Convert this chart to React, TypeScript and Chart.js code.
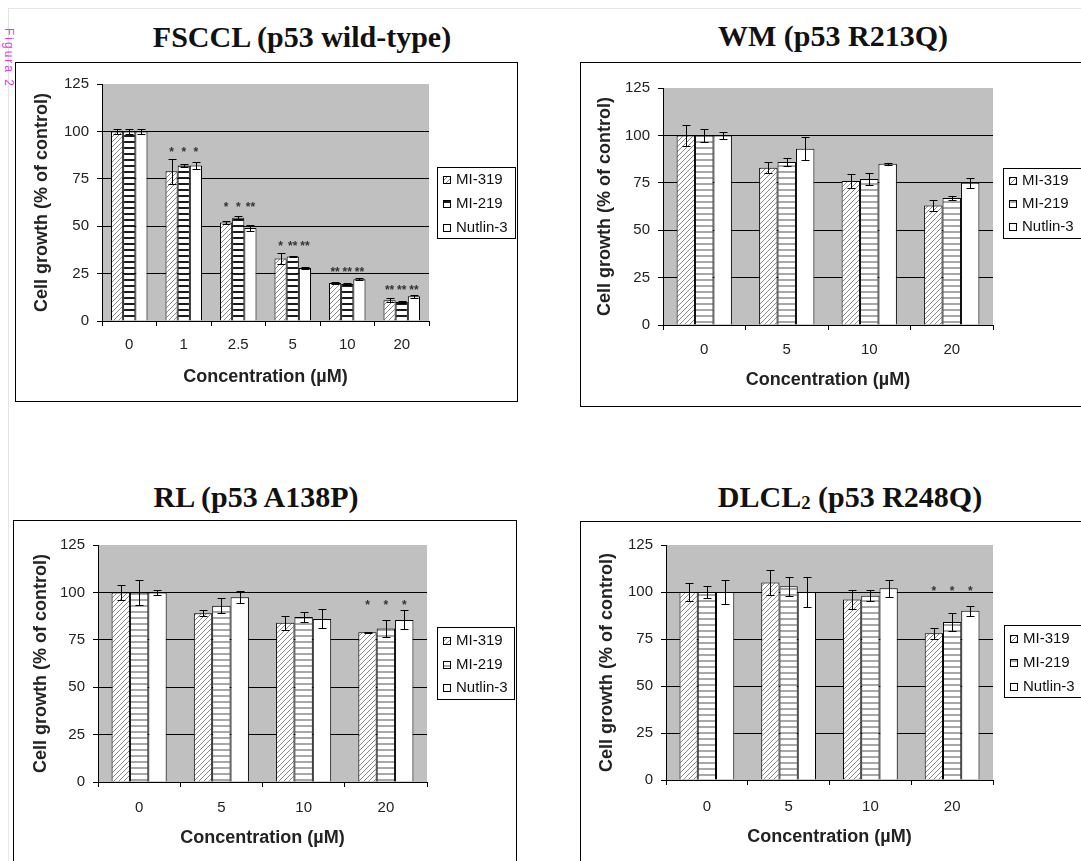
import React, { useEffect, useRef } from "react";
import { Chart, registerables } from "chart.js";

Chart.register(...registerables);

const SERIES = ["MI-319", "MI-219", "Nutlin-3"];
const Y_MIN = 0;
const Y_MAX = 125;
const Y_STEP = 25;

// FSCCL (p53 wild-type)
const FSCCL_CATEGORIES = ["0", "1", "2.5", "5", "10", "20"];
const FSCCL_MI319 = [100, 79, 52, 33, 20, 11];
const FSCCL_MI319_ERR = [1.5, 6.5, 0.7, 3, 0.5, 1];
const FSCCL_MI219 = [100, 82, 54.5, 34, 19.5, 10];
const FSCCL_MI219_ERR = [1.5, 0.8, 0.7, 0.5, 0.3, 0.3];
const FSCCL_NUTLIN = [100, 82, 49, 28, 22, 13];
const FSCCL_NUTLIN_ERR = [1.5, 2, 1.5, 0.5, 0.5, 0.8];
const FSCCL_STARS_MI319 = ["", "*", "*", "*", "**", "**"];
const FSCCL_STARS_MI219 = ["", "*", "*", "**", "**", "**"];
const FSCCL_STARS_NUTLIN = ["", "*", "**", "**", "**", "**"];
const FSCCL_STAR_LEVEL = [0, 90.5, 61.5, 41, 27.4, 18.1];

// WM (p53 R213Q)
const WM_CATEGORIES = ["0", "5", "10", "20"];
const WM_MI319 = [100, 83, 76, 63];
const WM_MI319_ERR = [5.5, 3, 3.5, 3];
const WM_MI219 = [100, 86, 77, 67];
const WM_MI219_ERR = [3.3, 2, 3, 1];
const WM_NUTLIN = [100, 93, 85, 75];
const WM_NUTLIN_ERR = [2, 6, 0.5, 2.5];
const WM_STARS = ["", "", "", ""];
const WM_STAR_LEVEL = [0, 0, 0, 0];

// RL (p53 A138P)
const RL_CATEGORIES = ["0", "5", "10", "20"];
const RL_MI319 = [100, 89, 84, 79];
const RL_MI319_ERR = [3.8, 1.5, 3.8, 0.3];
const RL_MI219 = [100, 93, 87, 81];
const RL_MI219_ERR = [6.5, 4, 2.4, 4.5];
const RL_NUTLIN = [100, 97.5, 86, 85.5];
const RL_NUTLIN_ERR = [1.5, 3, 5, 5];
const RL_STARS = ["", "", "", "*"];
const RL_STAR_LEVEL = [0, 0, 0, 95];

// DLCL2 (p53 R248Q)
const DLCL_CATEGORIES = ["0", "5", "10", "20"];
const DLCL_MI319 = [100, 105, 96, 78];
const DLCL_MI319_ERR = [4.6, 6.5, 5, 3];
const DLCL_MI219 = [100, 103, 98, 84];
const DLCL_MI219_ERR = [3.4, 5, 3, 5];
const DLCL_NUTLIN = [100, 100, 102, 90];
const DLCL_NUTLIN_ERR = [6.2, 8, 4.5, 2.7];
const DLCL_STARS = ["", "", "", "*"];
const DLCL_STAR_LEVEL = [0, 0, 0, 102];

const SANS = '"Liberation Sans", Arial, sans-serif';
const SERIF = '"Liberation Serif", "Times New Roman", serif';
const TICK_SIZE = 15;
const AXIS_TITLE_SIZE = 18;
const LEGEND_SIZE = 15;
const STAR_SIZE = 12;

type Rect = [number, number, number, number];

type PanelDef = {
  title: React.ReactNode;
  titleCx: number;
  titleBaseline: number;
  box: Rect;
  plot: Rect;
  legend: Rect;
  legendRows: number[];
  yTitleX: number;
  xLabelY: number;
  xTitleY: number;
  categories: string[];
  values: number[][];
  errors: number[][];
  stars: string[][];
  starLevel: number[];
  stripe: "dark" | "light";
};

const PANELS: PanelDef[] = [
  {
    title: "FSCCL (p53 wild-type)",
    titleCx: 302,
    titleBaseline: 47,
    box: [15, 62, 518, 402],
    plot: [102, 84, 429, 321],
    legend: [437, 167, 515, 238],
    legendRows: [180, 204, 228],
    yTitleX: 42,
    xLabelY: 345,
    xTitleY: 377,
    categories: FSCCL_CATEGORIES,
    values: [FSCCL_MI319, FSCCL_MI219, FSCCL_NUTLIN],
    errors: [FSCCL_MI319_ERR, FSCCL_MI219_ERR, FSCCL_NUTLIN_ERR],
    stars: [FSCCL_STARS_MI319, FSCCL_STARS_MI219, FSCCL_STARS_NUTLIN],
    starLevel: FSCCL_STAR_LEVEL,
    stripe: "dark",
  },
  {
    title: "WM (p53 R213Q)",
    titleCx: 833,
    titleBaseline: 46,
    box: [580, 62, 1110, 407],
    plot: [663, 88, 993, 325],
    legend: [1003, 168, 1110, 238],
    legendRows: [181, 204, 227],
    yTitleX: 605,
    xLabelY: 350,
    xTitleY: 380,
    categories: WM_CATEGORIES,
    values: [WM_MI319, WM_MI219, WM_NUTLIN],
    errors: [WM_MI319_ERR, WM_MI219_ERR, WM_NUTLIN_ERR],
    stars: [WM_STARS, WM_STARS, WM_STARS],
    starLevel: WM_STAR_LEVEL,
    stripe: "light",
  },
  {
    title: "RL (p53 A138P)",
    titleCx: 256,
    titleBaseline: 507,
    box: [13, 520, 517, 890],
    plot: [98, 545, 427, 782],
    legend: [437, 627, 514, 699],
    legendRows: [641, 665, 688],
    yTitleX: 41,
    xLabelY: 808,
    xTitleY: 838,
    categories: RL_CATEGORIES,
    values: [RL_MI319, RL_MI219, RL_NUTLIN],
    errors: [RL_MI319_ERR, RL_MI219_ERR, RL_NUTLIN_ERR],
    stars: [RL_STARS, RL_STARS, RL_STARS],
    starLevel: RL_STAR_LEVEL,
    stripe: "light",
  },
  {
    title: (
      <>
        DLCL
        <span style={{ fontSize: "0.62em", position: "relative", top: "0.12em" }}>2</span> (p53 R248Q)
      </>
    ),
    titleCx: 850,
    titleBaseline: 507,
    box: [580, 521, 1110, 890],
    plot: [666, 545, 993, 780],
    legend: [1004, 625, 1110, 697],
    legendRows: [639, 663, 687],
    yTitleX: 607,
    xLabelY: 807,
    xTitleY: 837,
    categories: DLCL_CATEGORIES,
    values: [DLCL_MI319, DLCL_MI219, DLCL_NUTLIN],
    errors: [DLCL_MI319_ERR, DLCL_MI219_ERR, DLCL_NUTLIN_ERR],
    stars: [DLCL_STARS, DLCL_STARS, DLCL_STARS],
    starLevel: DLCL_STAR_LEVEL,
    stripe: "light",
  },
];

function makeFill(ctx: CanvasRenderingContext2D, kind: string): CanvasPattern | string {
  if (kind === "white") return "#ffffff";
  const c = document.createElement("canvas");
  const g = c.getContext("2d") as CanvasRenderingContext2D;
  if (kind === "diag") {
    c.width = 5;
    c.height = 5;
    g.fillStyle = "#ffffff";
    g.fillRect(0, 0, 5, 5);
    g.strokeStyle = "#8a8a8a";
    g.lineWidth = 1;
    g.beginPath();
    g.moveTo(0, 5);
    g.lineTo(5, 0);
    g.moveTo(-1, 1);
    g.lineTo(1, -1);
    g.moveTo(4, 6);
    g.lineTo(6, 4);
    g.stroke();
  } else if (kind === "dark") {
    c.width = 6;
    c.height = 6;
    g.fillStyle = "#ffffff";
    g.fillRect(0, 0, 6, 6);
    g.fillStyle = "#1a1a1a";
    g.fillRect(0, 0, 6, 2);
  } else {
    c.width = 6;
    c.height = 6;
    g.fillStyle = "#ffffff";
    g.fillRect(0, 0, 6, 6);
    g.fillStyle = "#a8a8a8";
    g.fillRect(0, 0, 6, 2);
  }
  return ctx.createPattern(c, "repeat") as CanvasPattern;
}

function Panel({ def }: { def: PanelDef }) {
  const ref = useRef<HTMLCanvasElement>(null);
  const [bl, bt, br, bb] = def.box;
  const ox = bl + 1;
  const oy = bt + 1;
  const cw = br - bl - 2;
  const ch = bb - bt - 2;

  useEffect(() => {
    const canvas = ref.current as HTMLCanvasElement;
    const ctx0 = canvas.getContext("2d") as CanvasRenderingContext2D;
    const fills = [makeFill(ctx0, "diag"), makeFill(ctx0, def.stripe), makeFill(ctx0, "white")];

    const [pl, pt, pr, pb] = def.plot;
    const padTop = pt - oy;
    const yWidth = pl - ox;
    const padRight = ox + cw - pr;
    const xHeight = oy + ch - pb;
    const tickLH = TICK_SIZE * 1.2;
    const titleLH = AXIS_TITLE_SIZE * 1.2;
    const xTickPad = def.xLabelY - pb - 5 - tickLH / 2;
    const xTitlePad = oy + ch - def.xTitleY - titleLH / 2;
    const yTitlePad = def.yTitleX - ox - titleLH / 2;

    const deco = {
      id: "deco",
      beforeDraw(chart: any) {
        const { ctx, chartArea: a } = chart;
        ctx.save();
        ctx.fillStyle = "#c0c0c0";
        ctx.fillRect(a.left, a.top, a.right - a.left, a.bottom - a.top);
        ctx.restore();
      },
      afterDatasetsDraw(chart: any) {
        const { ctx } = chart;
        const ys = chart.scales.y;
        ctx.save();
        ctx.strokeStyle = "#000";
        ctx.lineWidth = 1;
        def.errors.forEach((errs, di) => {
          const meta = chart.getDatasetMeta(di);
          meta.data.forEach((bar: any, j: number) => {
            const v = def.values[di][j];
            const e = errs[j];
            const x = Math.round(bar.x) + 0.5;
            const y1 = Math.round(ys.getPixelForValue(v + e)) + 0.5;
            const y2 = Math.round(ys.getPixelForValue(v - e)) + 0.5;
            ctx.beginPath();
            ctx.moveTo(x, y1);
            ctx.lineTo(x, y2);
            ctx.moveTo(x - 4, y1);
            ctx.lineTo(x + 4, y1);
            ctx.moveTo(x - 4, y2);
            ctx.lineTo(x + 4, y2);
            ctx.stroke();
          });
        });
        ctx.fillStyle = "#333";
        ctx.font = `bold ${STAR_SIZE}px ${SANS}`;
        ctx.textAlign = "center";
        ctx.textBaseline = "alphabetic";
        def.stars.forEach((row, di) => {
          const meta = chart.getDatasetMeta(di);
          row.forEach((s, j) => {
            if (!s) return;
            const bar = meta.data[j];
            const yy = ys.getPixelForValue(def.starLevel[j]);
            ctx.fillText(s, bar.x, yy + STAR_SIZE * 0.58);
          });
        });
        ctx.restore();
      },
      afterDraw(chart: any) {
        const { ctx } = chart;
        const [ll, lt, lr, lb] = def.legend;
        const x0 = ll - ox;
        const y0 = lt - oy;
        ctx.save();
        ctx.fillStyle = "#fff";
        ctx.fillRect(x0, y0, lr - ll, lb - lt);
        ctx.strokeStyle = "#000";
        ctx.lineWidth = 1;
        ctx.strokeRect(x0 + 0.5, y0 + 0.5, lr - ll, lb - lt);
        ctx.font = `${LEGEND_SIZE}px ${SANS}`;
        ctx.textBaseline = "middle";
        ctx.textAlign = "left";
        chart.data.datasets.forEach((ds: any, i: number) => {
          const ry = def.legendRows[i] - oy;
          const sx = x0 + 6;
          const sy = Math.round(ry - 4);
          ctx.fillStyle = ds.backgroundColor;
          ctx.fillRect(sx, sy, 8, 8);
          ctx.strokeStyle = "#000";
          ctx.strokeRect(sx + 0.5, sy + 0.5, 7, 7);
          ctx.fillStyle = "#111";
          ctx.fillText(ds.label, x0 + 19, ry);
        });
        ctx.restore();
      },
    };

    const chart = new Chart(canvas, {
      type: "bar",
      data: {
        labels: def.categories,
        datasets: SERIES.map((name, i) => ({
          label: name,
          data: def.values[i],
          backgroundColor: fills[i] as any,
          borderColor: "#000",
          borderWidth: 1,
          barPercentage: 1,
          categoryPercentage: 0.67,
        })),
      },
      options: {
        responsive: false,
        maintainAspectRatio: false,
        animation: false,
        events: [],
        layout: { padding: { left: 0, top: padTop, right: padRight, bottom: 0 } },
        plugins: {
          legend: { display: false },
          tooltip: { enabled: false },
          title: { display: false },
        },
        scales: {
          x: {
            type: "category",
            offset: true,
            grid: {
              display: true,
              offset: true,
              drawOnChartArea: false,
              drawTicks: true,
              tickLength: 5,
              color: "#000",
              tickColor: "#000",
              lineWidth: 1,
            },
            border: { display: true, color: "#000", width: 1 },
            ticks: {
              color: "#222",
              font: { family: SANS, size: TICK_SIZE },
              padding: xTickPad,
              maxRotation: 0,
              autoSkip: false,
            },
            title: {
              display: true,
              text: "Concentration (µM)",
              color: "#222",
              font: { family: SANS, size: AXIS_TITLE_SIZE, weight: "bold" },
              padding: { top: 0, bottom: xTitlePad },
            },
            afterFit: (s: any) => {
              s.height = xHeight;
            },
          },
          y: {
            min: Y_MIN,
            max: Y_MAX,
            ticks: {
              stepSize: Y_STEP,
              color: "#222",
              font: { family: SANS, size: TICK_SIZE },
              padding: 8,
            },
            grid: {
              color: (c: any) =>
                c.tick && c.tick.value > Y_MIN && c.tick.value < Y_MAX ? "#000" : "rgba(0,0,0,0)",
              tickColor: "#000",
              drawTicks: true,
              tickLength: 5,
              lineWidth: 1,
            },
            border: { display: true, color: "#000", width: 1 },
            title: {
              display: true,
              text: "Cell growth (% of control)",
              color: "#222",
              font: { family: SANS, size: AXIS_TITLE_SIZE, weight: "bold" },
              padding: { top: yTitlePad, bottom: 0 },
            },
            afterFit: (s: any) => {
              s.width = yWidth;
            },
          },
        },
      } as any,
      plugins: [deco],
    });
    return () => chart.destroy();
  }, []);

  return (
    <>
      <div
        style={{
          position: "absolute",
          left: def.titleCx - 300,
          width: 600,
          top: def.titleBaseline - 25,
          textAlign: "center",
          font: `bold 30px ${SERIF}`,
          lineHeight: "30px",
          color: "#111",
          whiteSpace: "nowrap",
        }}
      >
        {def.title}
      </div>
      <div
        style={{
          position: "absolute",
          left: bl,
          top: bt,
          width: br - bl,
          height: bb - bt,
          border: "1px solid #000",
          boxSizing: "border-box",
          background: "#fff",
        }}
      >
        <canvas
          ref={ref}
          width={cw}
          height={ch}
          style={{ position: "absolute", left: 0, top: 0, width: cw, height: ch, display: "block" }}
        />
      </div>
    </>
  );
}

export default function App() {
  return (
    <div
      style={{
        position: "fixed",
        left: 0,
        top: 0,
        width: 1081,
        height: 861,
        overflow: "hidden",
        background: "#fff",
      }}
    >
      <div style={{ position: "absolute", left: 8, top: 8, width: 1073, height: 1, background: "#e4e4e4" }} />
      <div style={{ position: "absolute", left: 8, top: 8, width: 1, height: 853, background: "#e4e4e4" }} />
      <div
        style={{
          position: "absolute",
          left: 15,
          top: 28,
          transform: "rotate(90deg)",
          transformOrigin: "left top",
          font: `12px ${SANS}`,
          lineHeight: "12px",
          color: "#e040e0",
          letterSpacing: "2px",
          whiteSpace: "nowrap",
        }}
      >
        Figura 2
      </div>
      {PANELS.map((p, i) => (
        <Panel key={i} def={p} />
      ))}
    </div>
  );
}
